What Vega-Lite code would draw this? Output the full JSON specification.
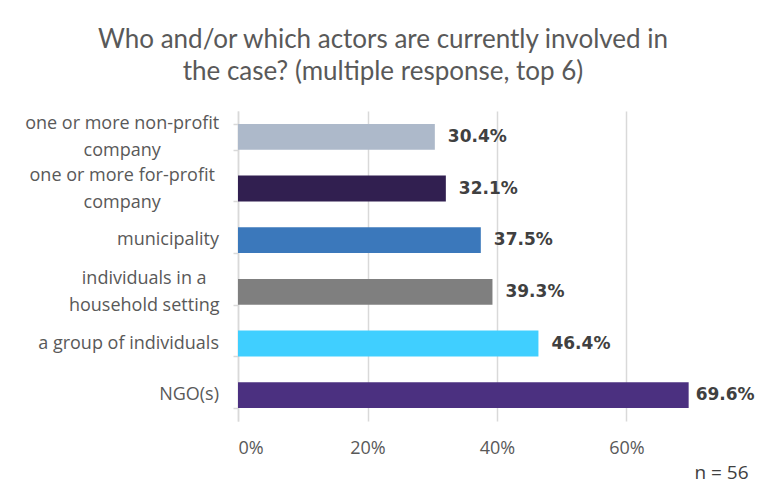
{
  "$schema": "https://vega.github.io/schema/vega-lite/v6.json",
  "autosize": "none",
  "width": 518,
  "height": 310,
  "padding": {"left": 238, "top": 111, "right": 2, "bottom": 70},
  "background": "white",
  "config": {"view": {"stroke": null}},
  "title": {
    "text": ["Who and/or which actors are currently involved in", "the case? (multiple response, top 6)"],
    "font": "Lato",
    "fontSize": 26,
    "fontWeight": "normal",
    "color": "#595959",
    "anchor": "middle",
    "frame": "group",
    "dx": -114,
    "dy": -6,
    "offset": 20,
    "lineHeight": 32
  },
  "data": {
    "values": [
      {"actor": "one or more non-profit\ncompany", "share": 0.304, "color": "#adb9ca"},
      {"actor": "one or more for-profit\ncompany", "share": 0.321, "color": "#311f50"},
      {"actor": "municipality", "share": 0.375, "color": "#3b78bb"},
      {"actor": "individuals in a\nhousehold setting", "share": 0.393, "color": "#7f7f7f"},
      {"actor": "a group of individuals", "share": 0.464, "color": "#40cfff"},
      {"actor": "NGO(s)", "share": 0.696, "color": "#4b3080"}
    ]
  },
  "encoding": {
    "y": {
      "field": "actor",
      "type": "nominal",
      "sort": null,
      "scale": {"paddingInner": 0.5, "paddingOuter": 0.25},
      "axis": {
        "title": null,
        "labels": false,
        "domain": true,
        "domainColor": "#d9d9d9",
        "domainWidth": 1.5,
        "ticks": true,
        "tickBand": "extent",
        "tickSize": 5,
        "tickColor": "#d9d9d9",
        "tickWidth": 1.5,
        "grid": false
      }
    },
    "x": {
      "field": "share",
      "type": "quantitative",
      "scale": {"domain": [0, 0.8], "nice": false},
      "axis": {
        "values": [0, 0.2, 0.4, 0.6],
        "format": ".0%",
        "labelFont": "Open Sans",
        "labelFontSize": 18,
        "labelColor": "#595959",
        "labelPadding": 18,
        "domain": false,
        "ticks": false,
        "grid": true,
        "gridColor": "#d9d9d9",
        "gridWidth": 1.5,
        "title": "n = 56",
        "titleFont": "Open Sans",
        "titleFontSize": 19,
        "titleFontWeight": "normal",
        "titleColor": "#404040",
        "titleAnchor": "end",
        "titleAlign": "right",
        "titleX": 510,
        "titlePadding": 6
      }
    }
  },
  "layer": [
    {
      "mark": {"type": "bar"},
      "encoding": {
        "color": {"field": "color", "type": "nominal", "scale": null}
      }
    },
    {
      "mark": {"type": "text", "align": "left", "baseline": "middle", "dx": {"expr": "datum.share > 0.6 ? 7 : 13"}, "font": "DejaVu Sans", "fontWeight": "bold", "fontSize": 17, "color": "#404040"},
      "encoding": {
        "text": {"field": "share", "type": "quantitative", "format": ".1%"}
      }
    },
    {
      "mark": {
        "type": "text",
        "align": {"expr": "indexof(datum.actor, '\\n') >= 0 ? 'center' : 'right'"},
        "baseline": "middle",
        "dx": {"expr": "indexof(datum.actor, '\\n') >= 0 ? -19 - 4.4 * max(length(split(datum.actor, '\\n')[0]), length(split(datum.actor, '\\n')[1])) : -19"},
        "dy": {"expr": "indexof(datum.actor, '\\n') >= 0 ? -13 : 0"},
        "lineBreak": "\n",
        "lineHeight": 27,
        "font": "Open Sans",
        "fontSize": 18,
        "color": "#595959"
      },
      "encoding": {
        "x": {"datum": 0},
        "text": {"field": "actor", "type": "nominal"}
      }
    }
  ]
}
